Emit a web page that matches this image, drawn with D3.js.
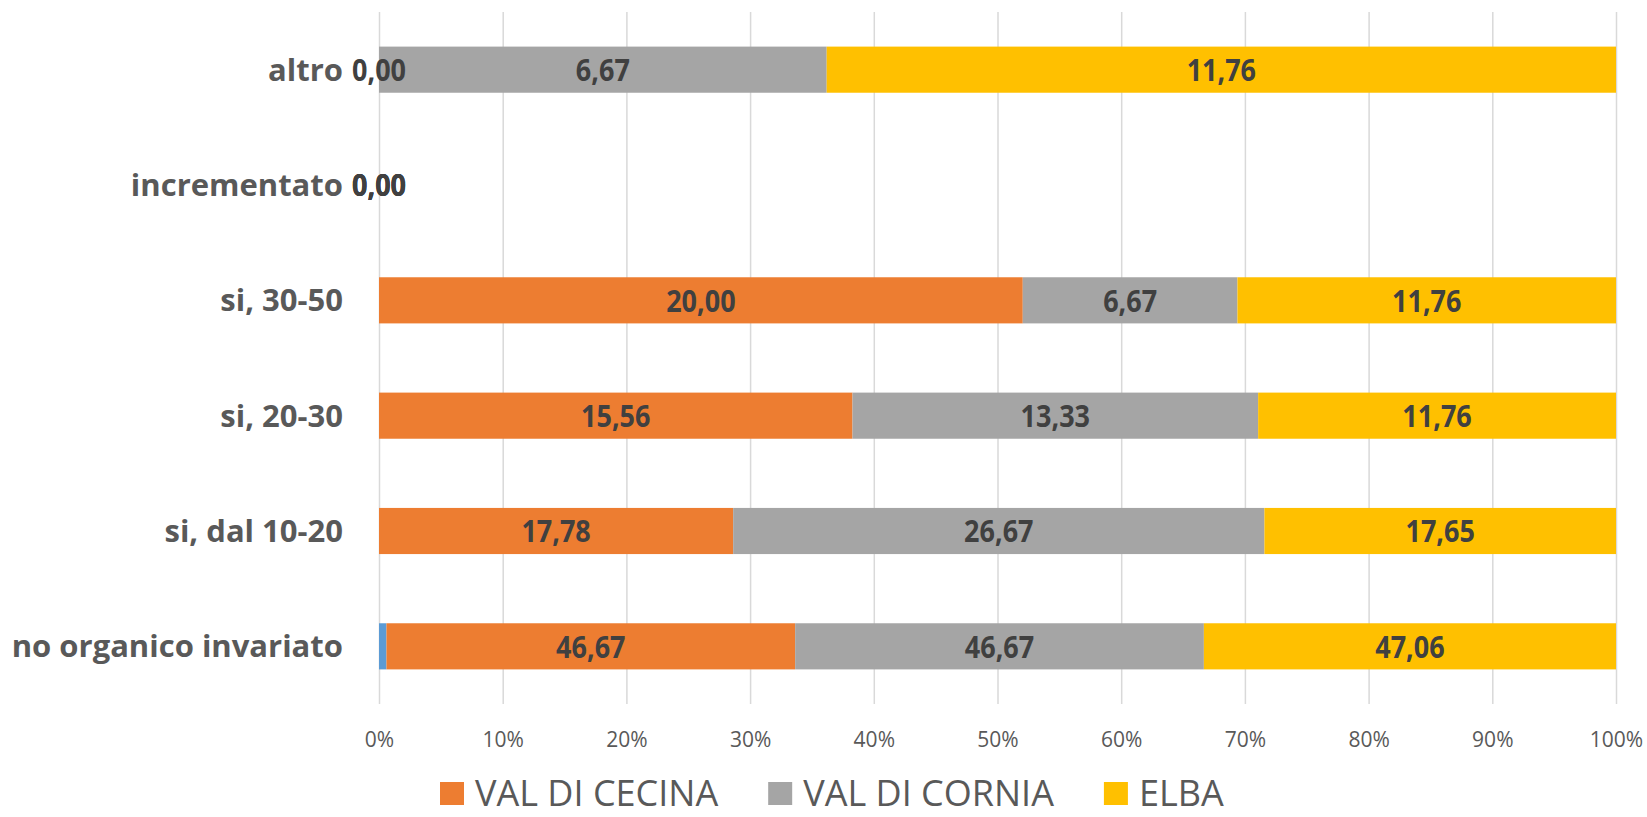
<!DOCTYPE html>
<html>
<head>
<meta charset="utf-8">
<script src="https://cdn.jsdelivr.net/npm/d3@7"></script>
<style>
  body { margin: 0; background: #fff; }
  text { font-family: "Open Sans", "Noto Sans", sans-serif; }
</style>
</head>
<body>
<div id="chart"></div>
<script>
// categories from top to bottom
const categories = ["altro", "incrementato", "si, 30-50", "si, 20-30", "si, dal 10-20", "no organico invariato"];
const seriesNames = ["", "VAL DI CECINA", "VAL DI CORNIA", "ELBA"];
const hiddenSeries = [0, 0, 0, 0, 0, 0.85];
const valCecina = [0, 0, 20.00, 15.56, 17.78, 46.67];
const valCornia = [6.67, 0, 6.67, 13.33, 26.67, 46.67];
const elba = [11.76, 0, 11.76, 11.76, 17.65, 47.06];
const tickValues = [0, 0.1, 0.2, 0.3, 0.4, 0.5, 0.6, 0.7, 0.8, 0.9, 1];

function makeChart() {
    const width = 1647,
        height = 817;
    const margin = { top: 12, left: 379, right: 31, bottom: 113 };
    const colors = ["#5B9BD5", "#ED7D31", "#A5A5A5", "#FFC000"];

    const rows = categories.map((c, i) => ({
        cat: c,
        s0: hiddenSeries[i], s1: valCecina[i], s2: valCornia[i], s3: elba[i]
    }));
    const keys = ["s0", "s1", "s2", "s3"];

    const stack = d3.stack().keys(keys).offset(d3.stackOffsetExpand);
    const layers = stack(rows);

    let svg = d3.select('#chart').append('svg')
        .attr('width', width)
        .attr('height', height);

    let x = d3.scaleLinear()
        .domain([0, 1])
        .range([margin.left, width - margin.right]);

    let y = d3.scaleBand()
        .domain(categories)
        .range([margin.top, height - margin.bottom])
        .paddingInner(0.6)
        .paddingOuter(0.3);

    // gridlines
    svg.append('g')
        .selectAll('line')
        .data(tickValues)
        .enter().append('line')
        .attr('x1', d => x(d) + 0.5)
        .attr('x2', d => x(d) + 0.5)
        .attr('y1', margin.top)
        .attr('y2', height - margin.bottom)
        .attr('stroke', '#D9D9D9')
        .attr('stroke-width', 1.5);

    // x axis labels
    let xAxis = d3.axisBottom(x)
        .tickValues(tickValues)
        .tickFormat(d3.format('.0%'))
        .tickSize(0)
        .tickPadding(28);

    let gx = svg.append('g')
        .attr('transform', 'translate(0,' + (height - margin.bottom) + ')')
        .call(xAxis);
    gx.select('.domain').remove();
    gx.selectAll('text')
        .attr('font-family', '"Open Sans", sans-serif')
        .attr('font-size', 21)
        .attr('fill', '#595959');

    // bars
    let groups = svg.append('g')
        .selectAll('g')
        .data(layers)
        .enter().append('g')
        .attr('fill', (d, i) => colors[i]);

    groups.selectAll('rect')
        .data(d => d)
        .enter().append('rect')
        .attr('x', d => x(d[0]))
        .attr('y', d => y(d.data.cat))
        .attr('width', d => x(d[1]) - x(d[0]))
        .attr('height', y.bandwidth());

    // category labels
    svg.append('g')
        .selectAll('text')
        .data(categories)
        .enter().append('text')
        .attr('x', margin.left - 36)
        .attr('y', d => y(d) + y.bandwidth() / 2)
        .attr('dy', '0.36em')
        .attr('text-anchor', 'end')
        .attr('font-size', 31)
        .attr('font-weight', 'bold')
        .attr('fill', '#595959')
        .text(d => d);

    // data labels (not for the hidden series)
    const fmt = v => v.toFixed(2).replace('.', ',');
    layers.slice(1).forEach(layer => {
        svg.append('g')
            .selectAll('text')
            .data(layer)
            .enter().append('text')
            .attr('transform', d => 'translate(' + ((x(d[0]) + x(d[1])) / 2) + ',' + (y(d.data.cat) + y.bandwidth() / 2) + ') scale(1,1.15)')
            .attr('dy', '0.36em')
            .attr('text-anchor', 'middle')
            .attr('font-size', 27)
            .attr('font-weight', 'bold')
            .attr('fill', '#404040')
            .text(d => fmt(d.data[layer.key]));
    });

    // legend
    let legend = svg.append('g');
    let lx = 440;
    const ly = 793;
    seriesNames.forEach((name, i) => {
        if (!name) return;
        legend.append('rect')
            .attr('x', lx)
            .attr('y', ly - 11)
            .attr('width', 24)
            .attr('height', 23)
            .attr('fill', colors[i]);
        let t = legend.append('text')
            .attr('x', lx + 35)
            .attr('y', ly)
            .attr('dy', '0.36em')
            .attr('font-size', 36)
            .attr('fill', '#595959')
            .text(name);
        lx += 35 + t.node().getComputedTextLength() + 50;
    });
}

makeChart();
</script>
</body>
</html>
